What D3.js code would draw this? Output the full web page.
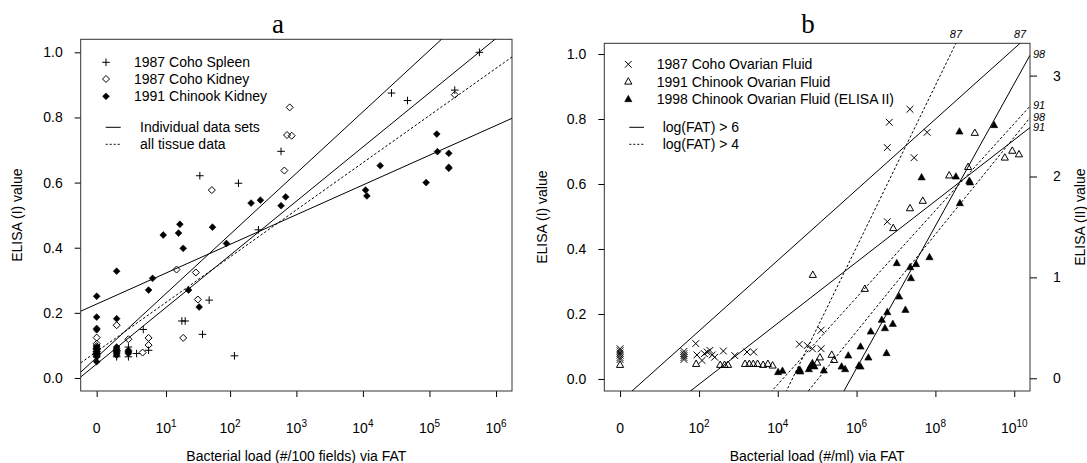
<!DOCTYPE html>
<html>
<head>
<meta charset="utf-8">
<script src="https://cdn.jsdelivr.net/npm/d3@7"></script>
<style>
body { margin: 0; background: #fff; }
svg { font-family: "Liberation Sans", Arial, sans-serif; }
</style>
</head>
<body>
<div id="chart"></div>
<script>
// all x values are log10(load + 1), which is what the plot axis shows

// ---- panel a : tissue samples, ELISA (I) ----
var spleenX = [0, 0, 0, 0, 0, 0.30, 0.30, 0.477, 0.477, 0.477, 0.60, 0.70, 0.78, 1.28, 1.33, 1.55, 1.59, 1.69, 2.07, 2.13, 2.43, 2.77, 4.43, 4.67, 5.38, 5.75];
var spleenY = [0.09, 0.08, 0.075, 0.07, 0.065, 0.08, 0.065, 0.095, 0.08, 0.065, 0.075, 0.149, 0.085, 0.175, 0.175, 0.621, 0.134, 0.239, 0.068, 0.598, 0.455, 0.696, 0.875, 0.852, 0.884, 1.0];

var cohoKidneyX = [0, 0, 0, 0, 0, 0, 0.30, 0.30, 0.477, 0.69, 0.78, 0.78, 1.20, 1.30, 1.49, 1.52, 1.73, 2.82, 2.86, 2.93, 2.90, 5.38];
var cohoKidneyY = [0.124, 0.105, 0.098, 0.09, 0.082, 0.075, 0.162, 0.085, 0.119, 0.078, 0.123, 0.101, 0.333, 0.123, 0.324, 0.241, 0.577, 0.637, 0.746, 0.744, 0.831, 0.870];

var chinookKidneyX = [0, 0, 0, 0, 0, 0, 0, 0, 0, 0, 0.30, 0.30, 0.30, 0.30, 0.30, 0.30, 0.30, 0.30, 0.477, 0.477, 0.477, 0.78, 0.84, 1.0, 1.23, 1.25, 1.30, 1.38, 1.54, 1.74, 1.95, 2.32, 2.46, 2.77, 2.84, 4.04, 4.06, 4.26, 4.95, 5.11, 5.12, 5.29, 5.29, 5.29];
var chinookKidneyY = [0.251, 0.187, 0.152, 0.148, 0.095, 0.088, 0.08, 0.072, 0.065, 0.05, 0.328, 0.182, 0.095, 0.09, 0.085, 0.08, 0.075, 0.07, 0.085, 0.08, 0.075, 0.27, 0.306, 0.439, 0.445, 0.472, 0.398, 0.27, 0.218, 0.463, 0.413, 0.537, 0.546, 0.529, 0.556, 0.577, 0.559, 0.652, 0.60, 0.749, 0.695, 0.69, 0.647, 0.644];

// fitted lines: value = intercept + slope * x
var fitA_intercept = [0.043, 0.063, 0.227, 0.081];
var fitA_slope = [0.1666, 0.1886, 0.0914, 0.145];
var fitA_dotted = [false, false, false, true];

// ---- panel b : ovarian fluid ----
var cohoOFX = [0, 0, 0, 0, 0, 0, 1.62, 1.62, 1.62, 1.62, 1.62, 1.92, 1.95, 2.08, 2.14, 2.21, 2.28, 2.34, 2.40, 2.62, 2.91, 3.22, 3.39, 4.55, 4.75, 4.88, 5.10, 5.10, 6.78, 6.78, 6.83, 7.355, 7.46, 7.79];
var cohoOFY = [0.093, 0.087, 0.08, 0.073, 0.066, 0.06, 0.085, 0.078, 0.072, 0.066, 0.06, 0.109, 0.074, 0.057, 0.078, 0.083, 0.088, 0.074, 0.067, 0.086, 0.072, 0.083, 0.083, 0.107, 0.103, 0.093, 0.150, 0.093, 0.484, 0.712, 0.790, 0.830, 0.681, 0.759];

var chinookOFX = [0, 1.93, 2.54, 2.65, 2.74, 3.17, 3.28, 3.38, 3.49, 3.63, 3.75, 3.87, 4.89, 5.0, 5.07, 5.37, 5.43, 6.21, 6.93, 7.355, 7.68, 8.35, 8.83, 9.00, 9.76, 9.95, 10.12];
var chinookOFY = [0.043, 0.046, 0.043, 0.043, 0.043, 0.046, 0.046, 0.046, 0.046, 0.043, 0.046, 0.041, 0.32, 0.05, 0.066, 0.074, 0.058, 0.277, 0.464, 0.525, 0.548, 0.626, 0.652, 0.757, 0.681, 0.702, 0.691];

// 1998 values are ELISA (II), right axis
var chinook98X = [4.01, 4.12, 4.53, 4.56, 4.57, 4.79, 4.84, 4.88, 4.93, 5.17, 5.62, 5.71, 5.79, 6.06, 6.10, 6.10, 6.30, 6.36, 6.64, 6.72, 6.76, 6.78, 6.92, 7.02, 7.08, 7.24, 7.36, 7.38, 7.51, 7.65, 7.85, 8.52, 8.61, 8.62, 8.86, 8.88, 9.49];
var chinook98Y = [0.06, 0.073, 0.073, 0.083, 0.066, 0.089, 0.122, 0.149, 0.116, 0.076, 0.115, 0.089, 0.224, 0.125, 0.115, 0.313, 0.204, 0.462, 0.578, 0.495, 0.248, 0.654, 0.538, 1.14, 0.809, 0.677, 1.10, 0.991, 1.13, 1.99, 1.199, 1.998, 2.444, 1.734, 1.955, 1.94, 2.508];

var fitB_label = ["87", "91", "98", "87", "91", "98"];
var fitB_intercept = [-0.070, -0.205, -4.13, -1.087, -0.552, -2.426];
var fitB_slope = [0.1087, 0.0941, 0.705, 0.2488, 0.1338, 0.4816];
var fitB_right = [false, false, true, false, false, true];
var fitB_dotted = [false, false, false, true, true, true];

var ticksA = [0, 1, 2, 3, 4, 5, 6];      // exponents, 0 means a count of 0
var ticksB = [0, 2, 4, 6, 8, 10];
var yTicks = [0, 0.2, 0.4, 0.6, 0.8, 1.0];
var y2Ticks = [0, 1, 2, 3];


var shapes = {
    plus: function (r) { return "M" + (-r) + ",0H" + r + "M0," + (-r) + "V" + r; },
    cross: function (r) { return "M" + (-r) + "," + (-r) + "L" + r + "," + r + "M" + (-r) + "," + r + "L" + r + "," + (-r); },
    diamond: function (r) { return "M0," + (-r) + "L" + r + ",0L0," + r + "L" + (-r) + ",0Z"; },
    triangle: function (r) { return "M0," + (-r) + "L" + (r * 0.9) + "," + (r * 0.6) + "L" + (-r * 0.9) + "," + (r * 0.6) + "Z"; }
};

var svg = d3.select("#chart").append("svg")
    .attr("width", 1087)
    .attr("height", 463);

function drawPoints(g, xs, ys, s, xv, yv) {
    g.append("g").selectAll("path")
        .data(d3.zip(xv, yv))
        .join("path")
        .attr("transform", function (d) { return "translate(" + xs(d[0]) + "," + ys(d[1]) + ")"; })
        .attr("d", shapes[s.shape](s.r))
        .attr("fill", s.filled ? "#000" : "none")
        .attr("stroke", "#000")
        .attr("stroke-width", s.filled ? 0.6 : 1);
}

function legendRow(g, x, y, s, label, textX) {
    g.append("path")
        .attr("transform", "translate(" + x + "," + y + ")")
        .attr("d", shapes[s.shape](s.r))
        .attr("fill", s.filled ? "#000" : "none")
        .attr("stroke", "#000")
        .attr("stroke-width", s.filled ? 0.6 : 1);
    g.append("text").attr("x", textX).attr("y", y + 5).attr("font-size", 14).text(label);
}

function legendLine(g, x0, x1, y, dotted, label, textX) {
    g.append("line").attr("x1", x0).attr("x2", x1).attr("y1", y).attr("y2", y)
        .attr("stroke", "#000").attr("stroke-dasharray", dotted ? "2,2" : null);
    g.append("text").attr("x", textX).attr("y", y + 5).attr("font-size", 14).text(label);
}

function makePanel(cfg) {
    var g = svg.append("g");
    var x = d3.scaleLinear().domain(cfg.xDomain).range([cfg.left, cfg.right]);
    var y = d3.scaleLinear().domain(cfg.yDomain).range([cfg.bottom, cfg.top]);

    g.append("clipPath").attr("id", cfg.id)
        .append("rect")
        .attr("x", cfg.left).attr("y", cfg.top)
        .attr("width", cfg.right - cfg.left).attr("height", cfg.bottom - cfg.top);

    // x axis, tick positions at log10(10^k + 1)
    var tickPos = cfg.ticks.map(function (k) { return k === 0 ? 0 : Math.log10(Math.pow(10, k) + 1); });
    var xa = g.append("g")
        .attr("transform", "translate(0," + cfg.bottom + ")")
        .call(d3.axisBottom(x).tickValues(tickPos).tickSize(6).tickFormat(""));
    xa.select(".domain").remove();

    var lab = g.selectAll("text.xl")
        .data(cfg.ticks)
        .join("text")
        .attr("class", "xl")
        .attr("x", function (k, i) { return x(tickPos[i]); })
        .attr("y", 433)
        .attr("text-anchor", "middle")
        .attr("font-size", 14);
    lab.each(function (k) {
        var t = d3.select(this);
        if (k === 0) { t.text("0"); return; }
        t.append("tspan").text("10");
        t.append("tspan").attr("dy", -6).attr("font-size", 10).text(k);
    });

    var ya = g.append("g")
        .attr("transform", "translate(" + cfg.left + ",0)")
        .call(d3.axisLeft(y).tickValues(yTicks).tickSize(6).tickPadding(12).tickFormat(d3.format(".1f")));
    ya.select(".domain").remove();
    ya.selectAll("text").attr("font-size", 14).attr("font-family", null);

    g.append("rect")
        .attr("x", cfg.left).attr("y", cfg.top)
        .attr("width", cfg.right - cfg.left).attr("height", cfg.bottom - cfg.top)
        .attr("fill", "none").attr("stroke", "#333");

    g.append("text")
        .attr("transform", "translate(" + cfg.yTitleX + "," + ((cfg.top + cfg.bottom) / 2) + ") rotate(-90)")
        .attr("text-anchor", "middle").attr("dy", "0.35em").attr("font-size", 14)
        .text("ELISA (I) value");

    g.append("text")
        .attr("x", (cfg.left + cfg.right) / 2).attr("y", 461)
        .attr("text-anchor", "middle").attr("font-size", 14)
        .text(cfg.xTitle);

    g.append("text")
        .attr("x", cfg.titleX).attr("y", 33)
        .attr("text-anchor", "middle")
        .attr("font-family", "'Liberation Serif', 'Times New Roman', serif")
        .attr("font-size", 27)
        .text(cfg.title);

    return {g: g, x: x, y: y};
}

function fitLine(p, ys, a, b, dotted) {
    var d = p.x.domain();
    p.g.append("line")
        .attr("clip-path", "url(#" + p.clip + ")")
        .attr("x1", p.x(d[0])).attr("y1", ys(a + b * d[0]))
        .attr("x2", p.x(d[1])).attr("y2", ys(a + b * d[1]))
        .attr("stroke", "#000").attr("stroke-width", 1)
        .attr("stroke-dasharray", dotted ? "2.5,2" : null);
}

// ---------- panel a ----------
var seriesA = [
    {name: "1987 Coho Spleen", x: spleenX, y: spleenY, shape: "plus", r: 3.8, filled: false},
    {name: "1987 Coho Kidney", x: cohoKidneyX, y: cohoKidneyY, shape: "diamond", r: 3.5, filled: false},
    {name: "1991 Chinook Kidney", x: chinookKidneyX, y: chinookKidneyY, shape: "diamond", r: 3.4, filled: true}
];

var pa = makePanel({
    id: "clipA", left: 80.7, right: 512, top: 39.3, bottom: 391,
    xDomain: [-0.24, 6.24], yDomain: [-0.04, 1.04],
    ticks: ticksA, yTitleX: 17, titleX: 278, title: "a",
    xTitle: "Bacterial load (#/100 fields) via FAT"
});
pa.clip = "clipA";

fitA_intercept.forEach(function (a, i) {
    fitLine(pa, pa.y, a, fitA_slope[i], fitA_dotted[i]);
});
seriesA.forEach(function (s) {
    drawPoints(pa.g, pa.x, pa.y, s, s.x, s.y);
});

var legA = pa.g.append("g");
seriesA.forEach(function (s, i) {
    legendRow(legA, 106, [62.3, 79, 96.3][i], s, s.name, 134);
});
legendLine(legA, 105.7, 120.7, 127.3, false, "Individual data sets", 140);
legendLine(legA, 105.7, 120.7, 144.3, true, "all tissue data", 140);

// ---------- panel b ----------
var seriesB = [
    {name: "1987 Coho Ovarian Fluid", x: cohoOFX, y: cohoOFY, shape: "cross", r: 3.4, filled: false, right: false},
    {name: "1991 Chinook Ovarian Fluid", x: chinookOFX, y: chinookOFY, shape: "triangle", r: 4, filled: false, right: false},
    {name: "1998 Chinook Ovarian Fluid (ELISA II)", x: chinook98X, y: chinook98Y, shape: "triangle", r: 4, filled: true, right: true}
];

var pb = makePanel({
    id: "clipB", left: 604.3, right: 1030, top: 43.3, bottom: 391,
    xDomain: [-0.4, 10.4], yDomain: [-0.037, 1.033],
    ticks: ticksB, yTitleX: 542, titleX: 808, title: "b",
    xTitle: "Bacterial load (#/ml) via FAT"
});
pb.clip = "clipB";

var y2 = d3.scaleLinear().domain([-0.126, 3.32]).range([391, 43.3]);
var ra = pb.g.append("g")
    .attr("transform", "translate(1030,0)")
    .call(d3.axisRight(y2).tickValues(y2Ticks).tickSize(7).tickPadding(16).tickFormat(d3.format("d")));
ra.select(".domain").remove();
ra.selectAll("text").attr("font-size", 14).attr("font-family", null);

pb.g.append("text")
    .attr("transform", "translate(1080," + ((43.3 + 391) / 2) + ") rotate(-90)")
    .attr("text-anchor", "middle").attr("dy", "0.35em").attr("font-size", 14)
    .text("ELISA (II) value");

fitB_intercept.forEach(function (a, i) {
    var ys = fitB_right[i] ? y2 : pb.y;
    var b = fitB_slope[i];
    fitLine(pb, ys, a, b, fitB_dotted[i]);

    // label where the line leaves the box
    var xMax = pb.x.domain()[1], yMax = ys.domain()[1];
    var atRight = a + b * xMax;
    if (atRight <= yMax) {
        pb.g.append("text").attr("x", 1033).attr("y", ys(atRight) + 3)
            .attr("font-size", 11).attr("font-style", "italic").text(fitB_label[i]);
    } else {
        pb.g.append("text").attr("x", pb.x((yMax - a) / b)).attr("y", 38)
            .attr("text-anchor", "middle")
            .attr("font-size", 11).attr("font-style", "italic").text(fitB_label[i]);
    }
});

seriesB.forEach(function (s) {
    drawPoints(pb.g, pb.x, s.right ? y2 : pb.y, s, s.x, s.y);
});

var legB = pb.g.append("g");
seriesB.forEach(function (s, i) {
    legendRow(legB, 628.3, [64.3, 81.7, 99.3][i], s, s.name, 656.7);
});
legendLine(legB, 629.3, 644, 127.3, false, "log(FAT) > 6", 662.7);
legendLine(legB, 629.3, 644, 144.3, true, "log(FAT) > 4", 662.7);
</script>
</body>
</html>
